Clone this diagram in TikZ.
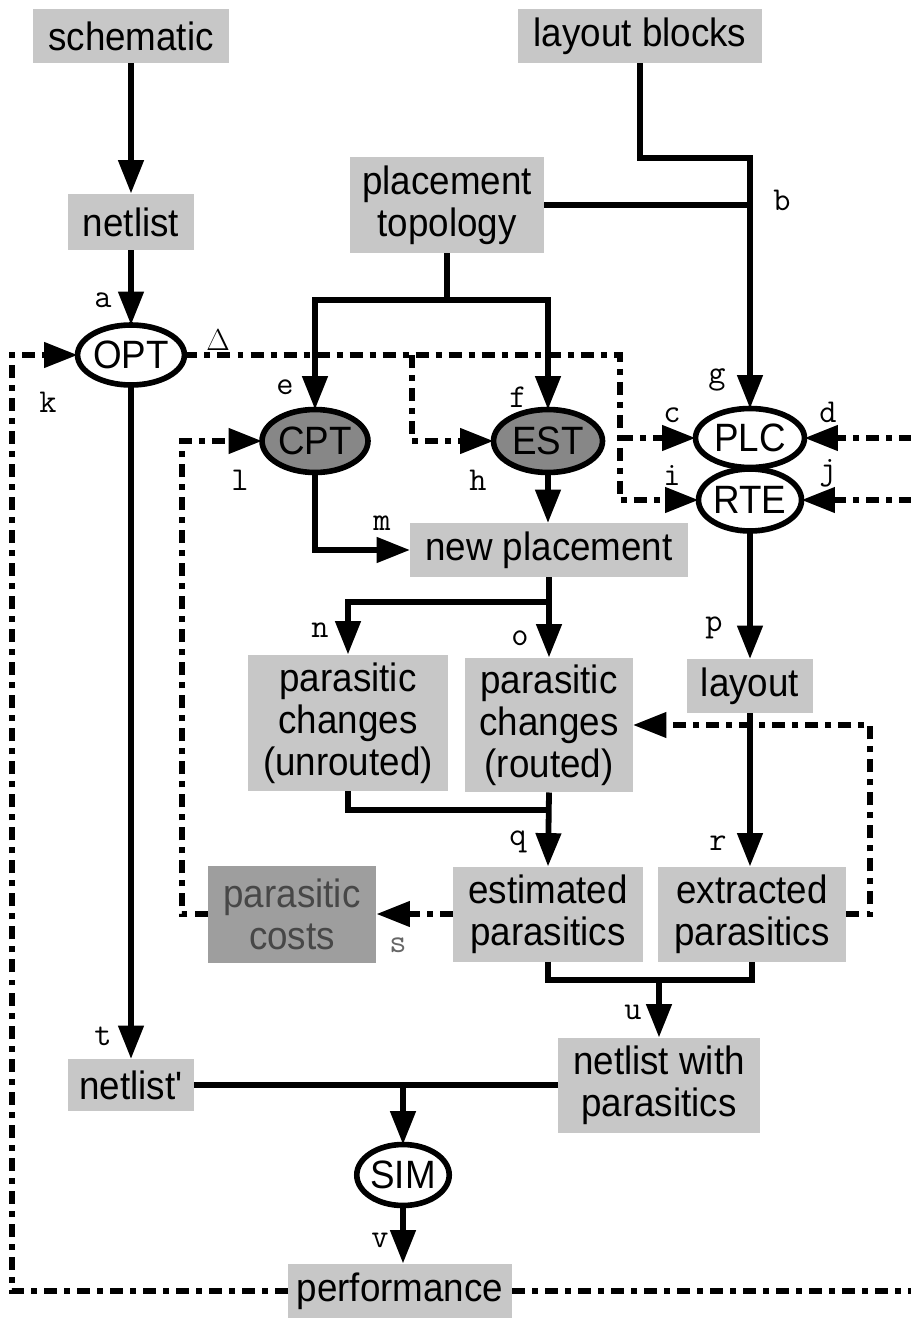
\documentclass[tikz,border=0pt]{standalone}
\usepackage{fontspec}
\setmainfont{Liberation Sans}[FakeStretch=0.93]
\usetikzlibrary{arrows.meta,shapes.geometric}
\newcommand\bxfont{\fontsize{22.5}{23.8}\selectfont}
\newcommand\lbfont{\ttfamily\fontsize{19}{19}\selectfont}
\definecolor{boxgray}{gray}{0.78}
\definecolor{darkgray}{gray}{0.53}
\definecolor{costgray}{gray}{0.62}
\begin{document}
\begin{tikzpicture}[x=0.02cm,y=-0.02cm,
  box/.style={fill=boxgray, inner sep=0pt, outer sep=0pt, align=center, font=\bxfont},
  proc/.style={ellipse, draw, line width=3.2pt, fill=white, inner sep=0pt, outer sep=0pt, font=\bxfont},
  darkproc/.style={proc, fill=darkgray},
  conn/.style={line width=3.3pt},
  arr/.style={conn, -{Triangle[length=19pt,width=14pt]}},
  fb/.style={line width=3.1pt, dash pattern=on 7.4pt off 4pt on 3.4pt off 4pt},
  fbarr/.style={fb, -{Triangle[length=19pt,width=14pt]}},
  lab/.style={inner sep=0pt, font=\lbfont}
]
\useasboundingbox (0,0) rectangle (910,1318);

% rails for the feedback paths
\coordinate (leftrail) at (12,0);
\coordinate (rightedge) at (912,0);
\coordinate (deltarail) at (620,0);
\coordinate (estrail) at (412,0);
\coordinate (costrail) at (182,0);
\coordinate (extrail) at (870,0);

% data boxes
\node[box, minimum width=3.92cm, minimum height=1.1cm] (schem) at (131,36) {schematic};
\node[box, minimum width=4.9cm, minimum height=1.1cm] (lblocks) at (640,36) {layout blocks};
\node[box, minimum width=2.52cm, minimum height=1.14cm] (netlist) at (131,222) {netlist};
\node[box, minimum width=3.9cm, minimum height=1.94cm] (ptopo) at (447,205) {placement\\topology};
\node[box, minimum width=5.56cm, minimum height=1.08cm] (newpl) at (549,550) {new placement};
\node[box, minimum width=4.0cm, minimum height=2.74cm] (unrouted) at (348,723) {parasitic\\changes\\(unrouted)};
\node[box, minimum width=3.36cm, minimum height=2.7cm] (routed) at (549,725) {parasitic\\changes\\(routed)};
\node[box, minimum width=2.52cm, minimum height=1.08cm] (layout) at (750,686) {layout};
\node[box, fill=costgray, text=black!72, minimum width=3.38cm, minimum height=1.94cm] (costs) at (292,914) {parasitic\\costs};
\node[box, minimum width=3.8cm, minimum height=1.9cm] (estim) at (548,914) {estimated\\parasitics};
\node[box, minimum width=3.78cm, minimum height=1.9cm] (extr) at (752,914) {extracted\\parasitics};
\node[box, minimum width=4.04cm, minimum height=1.9cm] (nwp) at (659,1085) {netlist with\\parasitics};
\node[box, minimum width=2.52cm, minimum height=1.04cm] (netlistp) at (131,1085) {netlist\textquotesingle};
\node[box, minimum width=4.48cm, minimum height=1.1cm] (perf) at (400,1291) {performance};

% tools
\node[proc, minimum width=2.1cm, minimum height=1.2cm] (OPT) at (131,355) {OPT};
\node[darkproc, minimum width=2.12cm, minimum height=1.26cm] (CPT) at (315,441) {CPT};
\node[darkproc, minimum width=2.18cm, minimum height=1.26cm] (EST) at (548,441) {EST};
\node[proc, minimum width=2.18cm, minimum height=1.18cm] (PLC) at (750,438) {PLC};
\node[proc, minimum width=2.02cm, minimum height=1.24cm] (RTE) at (750,500) {RTE};
\node[proc, minimum width=1.82cm, minimum height=1.22cm] (SIM) at (403,1175) {SIM};

% solid data flow
\draw[arr] (schem) -- (netlist);
\draw[arr] (netlist) -- (OPT);
\coordinate (jb) at (lblocks.south |- 0,158);
\draw[arr] (lblocks.south) -- (jb) -| (PLC.north);
\draw[conn] (ptopo.east) -- (ptopo.east -| PLC.north);
\coordinate (split1) at (ptopo.south |- 0,300);
\draw[conn] (ptopo.south) -- (split1);
\draw[arr] (split1) -| (CPT.north);
\draw[arr] (split1) -| (EST.north);
\draw[arr] (OPT.south) -- (netlistp.north);
\draw[arr] (CPT.south) |- (newpl.west);
\draw[arr] (EST.south) -- (EST.south |- newpl.north);
\coordinate (split2) at (newpl.south |- 0,602);
\draw[conn] (newpl.south) -- (split2);
\draw[arr] (split2) -| (unrouted.north);
\draw[arr] (split2) -- (routed.north);
\draw[arr] (RTE.south) -- (layout.north);
\draw[arr] (layout.south) -- (layout.south |- extr.north);
\coordinate (join1) at (routed.south |- 0,810);
\draw[conn] (unrouted.south) |- (join1);
\draw[arr] (routed.south) -- (estim.north);
\coordinate (join2) at (nwp.north |- 0,980);
\draw[conn] (estim.south) |- (extr.south |- join2) -- (extr.south);
\draw[arr] (join2) -- (nwp.north);
\draw[conn] (netlistp.east) -- (nwp.west);
\draw[arr] (SIM.north |- netlistp.east) -- (SIM.north);
\draw[arr] (SIM.south) -- (SIM.south |- perf.north);

% feedback paths
\draw[fbarr] (perf.west) -- (perf.west -| leftrail) |- (OPT.west);
\draw[fb] (perf.east) -- (perf.east -| rightedge);
\draw[fbarr] (PLC.east -| rightedge) -- (PLC.east);
\draw[fbarr] (RTE.east -| rightedge) -- (RTE.east);
\draw[fbarr] (OPT.east) -- (OPT.east -| deltarail) -- (deltarail |- RTE.west) -- (RTE.west);
\draw[fbarr] (deltarail |- PLC.west) -- (PLC.west);
\draw[fbarr] (estrail |- OPT.east) |- (EST.west);
\draw[fbarr] (costs.west) -- (costs.west -| costrail) |- (CPT.west);
\draw[fbarr] (estim.west) -- (costs.east);
\draw[fbarr] (extr.east) -- (extr.east -| extrail) |- (routed.east);

% edge labels
\node[lab] (la) at (103,300) {a};
\node[lab] (lb) at (782,200) {b};
\node[lab] (lc) at (672,415) {c};
\node[lab] (ld) at (828,412) {d};
\node[lab] (le) at (285,387) {e};
\node[lab] (lf) at (518,397) {f};
\node[lab] (lg) at (717,380) {g};
\node[lab] (lh) at (478,480) {h};
\node[lab] (li) at (672,475) {i};
\node[lab] (lj) at (828,473) {j};
\node[lab] (lk) at (48,402) {k};
\node[lab] (ll) at (240,480) {l};
\node[lab] (lm) at (382,523) {m};
\node[lab] (ln) at (320,630) {n};
\node[lab] (lo) at (520,638) {o};
\node[lab] (lp) at (714,628) {p};
\node[lab] (lq) at (518,842) {q};
\node[lab] (lr) at (718,843) {r};
\node[lab, text=black!60] (ls) at (398,945) {s};
\node[lab] (lt) at (103,1036) {t};
\node[lab] (lu) at (633,1012) {u};
\node[lab] (lv) at (380,1240) {v};
\node[lab, font=\fontsize{19}{19}\selectfont] (ldelta) at (218,340) {$\Delta$};
\end{tikzpicture}
\end{document}
